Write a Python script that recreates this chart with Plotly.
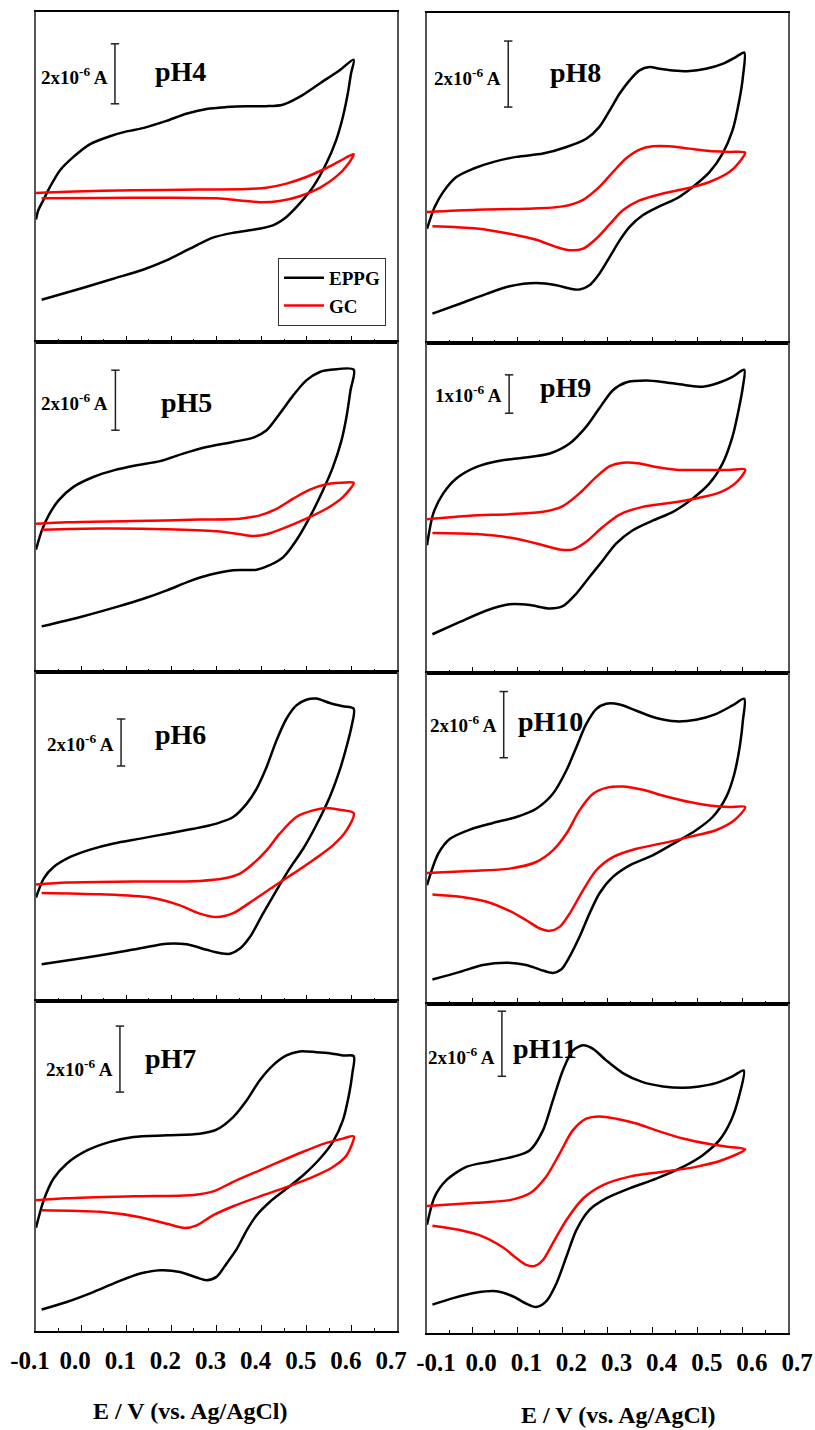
import plotly.graph_objects as go

# ---------------------------------------------------------------
# Cyclic voltammograms (current in µA vs. potential in V vs. Ag/AgCl)
# EPPG = edge-plane pyrolytic graphite, GC = glassy carbon
# Each scan starts at -0.09 V, goes to +0.6 V and returns to -0.1 V.
# ---------------------------------------------------------------

ph4_eppg_E = [-0.0875, 0.005, 0.071, 0.137, 0.189, 0.241, 0.292, 0.337, 0.381, 0.425, 0.455, 0.484, 0.514,
              0.543, 0.565, 0.58, 0.591, 0.598, 0.604, 0.573, 0.528, 0.484, 0.447, 0.410, 0.366, 0.322, 0.278,
              0.233, 0.189, 0.137, 0.101, 0.064, 0.019, -0.017, -0.047, -0.069, -0.084, -0.095, -0.1]
ph4_eppg_I = [1.41, 1.81, 2.11, 2.41, 2.72, 3.11, 3.48, 3.64, 3.74, 3.89, 4.17, 4.61, 5.17, 5.94, 6.72, 7.5,
              8.28, 8.94, 9.41, 9.06, 8.61, 8.17, 7.91, 7.86, 7.86, 7.83, 7.77, 7.61, 7.37, 7.13, 7.02, 6.86,
              6.59, 6.17, 5.72, 5.17, 4.72, 4.39, 4.08]
ph4_gc_E = [-0.0875, 0.042, 0.19, 0.30, 0.352, 0.396, 0.44, 0.4845, 0.529, 0.566, 0.591, 0.604, 0.573, 0.5435,
            0.499, 0.455, 0.41, 0.3665, 0.263, 0.116, -0.032, -0.1]
ph4_gc_I = [4.79, 4.80, 4.81, 4.79, 4.72, 4.66, 4.70, 4.86, 5.14, 5.52, 5.92, 6.26, 6.03, 5.80, 5.50, 5.28,
            5.14, 5.10, 5.08, 5.06, 5.01, 4.97]

ph5_eppg_E = [-0.0875, 0.005, 0.079, 0.138, 0.19, 0.241, 0.285, 0.337, 0.389, 0.418, 0.448, 0.477, 0.507,
              0.536, 0.558, 0.577, 0.588, 0.597, 0.604, 0.558, 0.529, 0.499, 0.47, 0.44, 0.411, 0.381, 0.337,
              0.278, 0.226, 0.175, 0.123, 0.072, 0.027, -0.017, -0.05, -0.072, -0.087, -0.1]
ph5_eppg_I = [1.52, 1.86, 2.17, 2.44, 2.72, 3.03, 3.24, 3.39, 3.41, 3.56, 3.83, 4.39, 5.17, 6.06, 6.83, 7.72,
              8.5, 9.39, 10.08, 10.08, 10.0, 9.72, 9.22, 8.61, 8.06, 7.81, 7.67, 7.5, 7.28, 7.03, 6.89, 6.72,
              6.5, 6.17, 5.72, 5.22, 4.72, 4.08]
ph5_gc_E = [-0.0875, 0.042, 0.19, 0.30, 0.352, 0.381, 0.411, 0.455, 0.499, 0.5435, 0.58, 0.604, 0.588, 0.5435,
            0.507, 0.47, 0.433, 0.396, 0.352, 0.263, 0.116, -0.032, -0.1]
ph5_gc_I = [4.74, 4.78, 4.76, 4.69, 4.59, 4.53, 4.59, 4.83, 5.11, 5.44, 5.83, 6.3, 6.32, 6.26, 6.08, 5.78,
            5.44, 5.22, 5.11, 5.08, 5.03, 4.99, 4.94]

ph6_eppg_E = [-0.0875, 0.005, 0.079, 0.138, 0.19, 0.234, 0.278, 0.3075, 0.33, 0.352, 0.374, 0.403, 0.433,
              0.462, 0.492, 0.521, 0.551, 0.573, 0.588, 0.599, 0.604, 0.58, 0.551, 0.521, 0.499, 0.477, 0.455,
              0.433, 0.411, 0.389, 0.367, 0.337, 0.30, 0.249, 0.19, 0.131, 0.072, 0.02, -0.024, -0.061,
              -0.083, -0.1]
ph6_eppg_I = [1.56, 1.83, 2.06, 2.27, 2.44, 2.41, 2.18, 2.04, 2.01, 2.23, 2.72, 3.72, 4.71, 5.63, 6.48, 7.48,
              8.68, 9.82, 10.81, 11.66, 12.44, 12.54, 12.68, 12.87, 12.82, 12.58, 12.01, 11.09, 9.96, 9.04,
              8.40, 7.83, 7.55, 7.33, 7.12, 6.91, 6.70, 6.44, 6.13, 5.70, 5.21, 4.40]
ph6_gc_E = [-0.0875, 0.042, 0.153, 0.219, 0.263, 0.30, 0.337, 0.381, 0.425, 0.47, 0.514, 0.558, 0.588, 0.604,
            0.573, 0.5435, 0.514, 0.477, 0.44, 0.411, 0.381, 0.352, 0.315, 0.263, 0.116, -0.032, -0.1]
ph6_gc_I = [4.60, 4.54, 4.40, 4.07, 3.72, 3.57, 3.74, 4.28, 4.85, 5.42, 5.99, 6.62, 7.26, 8.0, 8.14, 8.21,
            8.11, 7.83, 7.12, 6.41, 5.84, 5.42, 5.21, 5.11, 5.08, 5.04, 4.96]

ph7_eppg_E = [-0.0875, -0.032, 0.027, 0.079, 0.131, 0.175, 0.219, 0.256, 0.278, 0.30, 0.322, 0.345, 0.367,
              0.389, 0.418, 0.455, 0.492, 0.529, 0.558, 0.58, 0.594, 0.601, 0.604, 0.58, 0.551, 0.521, 0.484,
              0.455, 0.425, 0.396, 0.367, 0.337, 0.30, 0.263, 0.19, 0.116, 0.064, 0.013, -0.032, -0.061,
              -0.083, -0.1]
ph7_eppg_I = [0.65, 0.88, 1.18, 1.48, 1.74, 1.84, 1.79, 1.62, 1.54, 1.64, 2.04, 2.49, 3.05, 3.51, 3.91, 4.31,
              4.72, 5.22, 5.73, 6.38, 7.19, 7.80, 8.33, 8.35, 8.42, 8.45, 8.47, 8.35, 8.05, 7.60, 6.99, 6.48,
              6.10, 5.98, 5.93, 5.88, 5.73, 5.47, 5.07, 4.62, 3.96, 3.13]
ph7_gc_E = [-0.0875, 0.042, 0.131, 0.19, 0.23, 0.256, 0.293, 0.337, 0.396, 0.455, 0.514, 0.558, 0.588, 0.604,
            0.58, 0.5435, 0.499, 0.455, 0.396, 0.337, 0.293, 0.249, 0.116, -0.032, -0.1]
ph7_gc_I = [3.66, 3.61, 3.45, 3.25, 3.12, 3.20, 3.51, 3.78, 4.08, 4.36, 4.67, 4.97, 5.32, 5.90, 5.83, 5.70,
            5.47, 5.22, 4.87, 4.52, 4.23, 4.12, 4.08, 4.02, 3.96]

ph8_eppg_E = [-0.088, -0.027, 0.032, 0.083, 0.142, 0.187, 0.216, 0.238, 0.26, 0.282, 0.305, 0.327, 0.349,
              0.378, 0.415, 0.452, 0.489, 0.526, 0.555, 0.577, 0.592, 0.60, 0.603, 0.585, 0.555, 0.518, 0.482,
              0.445, 0.415, 0.393, 0.371, 0.349, 0.327, 0.305, 0.282, 0.253, 0.209, 0.157, 0.098, 0.046,
              0.002, -0.035, -0.064, -0.083, -0.1]
ph8_eppg_I = [0.89, 1.19, 1.49, 1.72, 1.82, 1.75, 1.65, 1.62, 1.75, 2.10, 2.61, 3.11, 3.52, 3.87, 4.14, 4.37,
              4.73, 5.18, 5.74, 6.44, 7.35, 8.06, 8.80, 8.67, 8.46, 8.31, 8.24, 8.26, 8.31, 8.36, 8.26, 7.96,
              7.56, 7.05, 6.55, 6.19, 5.94, 5.74, 5.64, 5.48, 5.28, 5.03, 4.58, 4.12, 3.46]
ph8_gc_E = [-0.088, 0.01, 0.083, 0.142, 0.187, 0.216, 0.246, 0.275, 0.305, 0.334, 0.371, 0.423, 0.474, 0.526,
            0.57, 0.592, 0.605, 0.57, 0.526, 0.482, 0.437, 0.40, 0.371, 0.341, 0.312, 0.282, 0.246, 0.201,
            0.12, 0.01, -0.1]
ph8_gc_I = [3.54, 3.47, 3.31, 3.13, 2.91, 2.81, 2.86, 3.16, 3.60, 4.02, 4.32, 4.53, 4.68, 4.88, 5.18, 5.48,
            5.77, 5.79, 5.82, 5.89, 5.96, 5.96, 5.86, 5.59, 5.18, 4.73, 4.34, 4.14, 4.07, 4.04, 3.97]

ph9_eppg_E = [-0.088, -0.027, 0.032, 0.083, 0.128, 0.172, 0.201, 0.231, 0.26, 0.29, 0.319, 0.356, 0.40,
              0.445, 0.489, 0.526, 0.555, 0.577, 0.592, 0.60, 0.603, 0.577, 0.548, 0.511, 0.474, 0.43, 0.386,
              0.341, 0.312, 0.282, 0.253, 0.216, 0.172, 0.113, 0.061, 0.01, -0.035, -0.064, -0.086, -0.1]
ph9_eppg_I = [1.01, 1.33, 1.63, 1.79, 1.77, 1.68, 1.74, 2.07, 2.50, 2.94, 3.37, 3.72, 3.97, 4.20, 4.55, 4.94,
              5.46, 6.16, 6.94, 7.46, 7.90, 7.72, 7.57, 7.46, 7.50, 7.57, 7.62, 7.57, 7.37, 6.90, 6.42, 5.98,
              5.72, 5.61, 5.53, 5.37, 5.07, 4.68, 4.16, 3.33]
ph9_gc_E = [-0.088, 0.01, 0.098, 0.157, 0.194, 0.223, 0.253, 0.29, 0.327, 0.378, 0.437, 0.496, 0.548, 0.585,
            0.605, 0.57, 0.511, 0.452, 0.408, 0.371, 0.334, 0.305, 0.275, 0.238, 0.201, 0.157, 0.083, -0.005,
            -0.1]
ph9_gc_I = [3.65, 3.62, 3.50, 3.33, 3.22, 3.22, 3.42, 3.81, 4.13, 4.33, 4.43, 4.55, 4.70, 4.96, 5.30, 5.29,
            5.29, 5.30, 5.37, 5.46, 5.48, 5.39, 5.11, 4.68, 4.35, 4.20, 4.14, 4.10, 4.01]

ph10_eppg_E = [-0.088, -0.027, 0.024, 0.076, 0.12, 0.157, 0.179, 0.198, 0.216, 0.238, 0.26, 0.282, 0.312,
               0.349, 0.40, 0.452, 0.496, 0.533, 0.563, 0.581, 0.594, 0.60, 0.603, 0.577, 0.54, 0.496, 0.452,
               0.408, 0.364, 0.327, 0.297, 0.275, 0.253, 0.231, 0.209, 0.179, 0.142, 0.098, 0.046, -0.005,
               -0.049, -0.075, -0.1]
ph10_eppg_I = [0.74, 0.97, 1.18, 1.25, 1.18, 1.01, 0.94, 1.05, 1.43, 2.03, 2.73, 3.34, 3.84, 4.19, 4.49,
               4.89, 5.25, 5.65, 6.25, 6.95, 7.86, 8.56, 9.22, 9.02, 8.76, 8.59, 8.54, 8.64, 8.86, 9.05, 9.07,
               8.91, 8.46, 7.76, 7.06, 6.35, 5.90, 5.65, 5.47, 5.27, 4.99, 4.54, 3.59]
ph10_gc_E = [-0.088, -0.027, 0.032, 0.083, 0.12, 0.15, 0.172, 0.194, 0.216, 0.246, 0.275, 0.312, 0.364, 0.423,
             0.482, 0.54, 0.581, 0.605, 0.57, 0.526, 0.482, 0.43, 0.378, 0.334, 0.297, 0.268, 0.238, 0.209,
             0.179, 0.142, 0.083, -0.005, -0.1]
ph10_gc_I = [3.31, 3.24, 3.09, 2.81, 2.53, 2.28, 2.21, 2.33, 2.73, 3.44, 4.04, 4.44, 4.69, 4.86, 5.05, 5.25,
             5.55, 5.95, 5.95, 6.0, 6.10, 6.27, 6.47, 6.57, 6.53, 6.35, 5.85, 5.15, 4.64, 4.29, 4.09, 4.02,
             3.96]

ph11_eppg_E = [-0.088, -0.042, 0.01, 0.054, 0.091, 0.12, 0.142, 0.164, 0.187, 0.209, 0.231, 0.26, 0.297,
               0.349, 0.408, 0.467, 0.511, 0.548, 0.574, 0.591, 0.602, 0.577, 0.54, 0.503, 0.467, 0.423, 0.378,
               0.334, 0.297, 0.268, 0.246, 0.223, 0.201, 0.179, 0.157, 0.128, 0.091, 0.039, -0.013, -0.057,
               -0.083, -0.1]
ph11_eppg_I = [0.87, 1.07, 1.24, 1.28, 1.12, 0.90, 0.80, 0.97, 1.53, 2.35, 3.16, 3.78, 4.13, 4.44, 4.74,
               5.10, 5.46, 5.92, 6.53, 7.24, 8.06, 7.88, 7.67, 7.57, 7.53, 7.57, 7.70, 7.98, 8.37, 8.72, 8.83,
               8.67, 8.06, 7.14, 6.22, 5.61, 5.41, 5.26, 5.10, 4.69, 4.18, 3.32]
ph11_gc_E = [-0.088, -0.027, 0.024, 0.068, 0.098, 0.12, 0.139, 0.157, 0.179, 0.209, 0.246, 0.29, 0.349, 0.423,
             0.496, 0.555, 0.605, 0.57, 0.526, 0.467, 0.408, 0.364, 0.319, 0.282, 0.253, 0.223, 0.194, 0.164,
             0.128, 0.083, 0.01, -0.1]
ph11_gc_I = [3.29, 3.16, 2.96, 2.63, 2.30, 2.09, 2.06, 2.24, 2.76, 3.47, 4.13, 4.54, 4.80, 4.95, 5.10, 5.31,
             5.64, 5.71, 5.80, 5.97, 6.22, 6.43, 6.58, 6.65, 6.58, 6.22, 5.51, 4.80, 4.29, 4.08, 4.0, 3.90]

# panel titles and current scale bars (µA)
PH_LABELS = ["pH4", "pH5", "pH6", "pH7", "pH8", "pH9", "pH10", "pH11"]
SCALE_UA = [2, 2, 2, 2, 2, 1, 2, 2]

# shared potential axis
TICK_VALS = [-0.1, 0.0, 0.1, 0.2, 0.3, 0.4, 0.5, 0.6, 0.7]
TICK_LABELS = ["-0.1", "0.0", "0.1", "0.2", "0.3", "0.4", "0.5", "0.6", "0.7"]
X_TITLE = "E / V (vs. Ag/AgCl)"

CURVES = [
    (ph4_eppg_E, ph4_eppg_I, ph4_gc_E, ph4_gc_I),
    (ph5_eppg_E, ph5_eppg_I, ph5_gc_E, ph5_gc_I),
    (ph6_eppg_E, ph6_eppg_I, ph6_gc_E, ph6_gc_I),
    (ph7_eppg_E, ph7_eppg_I, ph7_gc_E, ph7_gc_I),
    (ph8_eppg_E, ph8_eppg_I, ph8_gc_E, ph8_gc_I),
    (ph9_eppg_E, ph9_eppg_I, ph9_gc_E, ph9_gc_I),
    (ph10_eppg_E, ph10_eppg_I, ph10_gc_E, ph10_gc_I),
    (ph11_eppg_E, ph11_eppg_I, ph11_gc_E, ph11_gc_I),
]

# ---------------- layout geometry (pixels) ----------------
W, H = 815, 1430
FONT = "Liberation Serif, Times New Roman, serif"
COL_X = [(36, 397), (427, 788)]
ROWS_PX = [
    [(12, 342), (342, 672), (672, 1001), (1001, 1331)],
    [(13, 343), (343, 673), (673, 1004), (1004, 1333)],
]
Y_MAX = [11.0, 11.0, 14.0, 10.0, 10.0, 8.6, 10.0, 10.1]
# scale bar: x position (V) and lower end (µA); label / pH title anchors
BAR_POS = [(0.075, 7.94), (0.076, 8.06), (0.0885, 10.0), (0.086, 7.24),
           (0.080, 7.15), (0.082, 6.77), (0.070, 7.44), (0.066, 7.88)]
BAR_TEXT_Y = [8.87, 9.0, 10.98, 7.97, 8.06, 7.26, 8.46, 8.50]
PH_POS = [(0.159, 9.03), (0.172, 9.0), (0.159, 11.32), (0.137, 8.27),
          (0.168, 8.21), (0.146, 7.44), (0.097, 8.55), (0.086, 8.72)]
LABEL_SHIFT = [-6, 9]

fig = go.Figure()
layout = dict(
    width=W, height=H, margin=dict(l=0, r=0, t=0, b=0, autoexpand=False),
    paper_bgcolor="white", plot_bgcolor="white",
    showlegend=True,
    legend=dict(x=278 / W, y=1 - 258 / H, xanchor="left", yanchor="top",
                bgcolor="white", bordercolor="#333", borderwidth=1,
                font=dict(family=FONT, size=19, color="black", weight="bold"),
                tracegroupgap=0, itemwidth=40),
)
annotations = []

for k in range(8):
    col, row = divmod(k, 4)
    n = k + 1
    xa, ya = ("x" if n == 1 else f"x{n}"), ("y" if n == 1 else f"y{n}")
    x0, x1 = COL_X[col]
    top, bot = ROWS_PX[col][row]
    bottom_row = row == 3

    layout["xaxis" if n == 1 else f"xaxis{n}"] = dict(
        domain=[x0 / W, x1 / W], anchor=ya, range=[-0.1, 0.7], automargin=False,
        tickmode="array", tickvals=TICK_VALS, ticktext=TICK_LABELS,
        ticks="inside", ticklen=6, tickwidth=1, tickcolor="black",
        minor=dict(tickmode="linear", tick0=-0.1, dtick=0.05, ticks="inside",
                   ticklen=3, tickwidth=1, tickcolor="black"),
        showticklabels=bottom_row, ticklabelshift=LABEL_SHIFT[col], ticklabelstandoff=6,
        tickfont=dict(family=FONT, size=25, color="black", weight="bold"),
        showline=True, linecolor="black", linewidth=2, mirror=True,
        showgrid=False, zeroline=False, fixedrange=True,
    )
    layout["yaxis" if n == 1 else f"yaxis{n}"] = dict(
        domain=[1 - bot / H, 1 - top / H], anchor=xa, range=[0, Y_MAX[k]], automargin=False,
        showticklabels=False, ticks="", showline=True, linecolor="#555",
        linewidth=1.5, mirror=True, showgrid=False, zeroline=False, fixedrange=True,
    )

    eE, eI, gE, gI = CURVES[k]
    fig.add_trace(go.Scatter(x=eE, y=eI, mode="lines", name="EPPG", xaxis=xa, yaxis=ya,
                             line=dict(color="black", width=2.5, shape="spline", smoothing=0.8),
                             showlegend=(k == 0), legendrank=1))
    fig.add_trace(go.Scatter(x=gE, y=gI, mode="lines", name="GC", xaxis=xa, yaxis=ya,
                             line=dict(color="#ff0000", width=2.5, shape="spline", smoothing=0.8),
                             showlegend=(k == 0), legendrank=2))

    # current scale bar
    bx, blo = BAR_POS[k]
    fig.add_trace(go.Scatter(x=[bx, bx], y=[blo, blo + SCALE_UA[k]], mode="lines+markers",
                             xaxis=xa, yaxis=ya, showlegend=False, hoverinfo="skip",
                             line=dict(color="#222", width=1.5),
                             marker=dict(symbol="line-ew", size=6, line=dict(color="#222", width=1.5))))
    annotations.append(dict(
        x=bx, y=BAR_TEXT_Y[k], xref=xa, yref=ya, xanchor="right", yanchor="middle",
        xshift=-5, showarrow=False, text=f"{SCALE_UA[k]}x10<sup>-6</sup> A",
        font=dict(family=FONT, size=19, color="black", weight="bold")))
    px_, py_ = PH_POS[k]
    annotations.append(dict(
        x=px_, y=py_, xref=xa, yref=ya, xanchor="left", yanchor="middle",
        showarrow=False, text=PH_LABELS[k],
        font=dict(family=FONT, size=28, color="black", weight="bold")))

# potential axis titles under each column
for cx, cy in [(190, 1411), (618, 1415)]:
    annotations.append(dict(
        x=cx / W, y=1 - cy / H, xref="paper", yref="paper", xanchor="center", yanchor="middle",
        showarrow=False, text=X_TITLE,
        font=dict(family=FONT, size=24, color="black", weight="bold")))

layout["annotations"] = annotations
fig.update_layout(**layout)
fig.write_html("out.html")
